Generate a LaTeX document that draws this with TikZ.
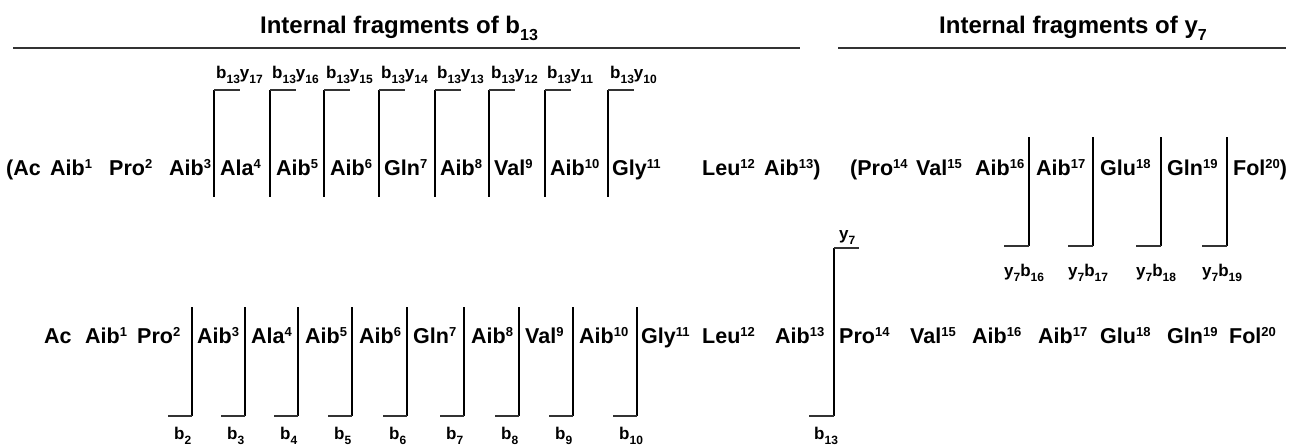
\documentclass[tikz,border=0pt]{standalone}
\usepackage{fontspec}
\setmainfont{Liberation Sans}
% residue superscripts and fragment subscripts
\newcommand\sps[1]{\raisebox{0.32em}{\fontsize{13}{13}\selectfont #1}}
\newcommand\sbs[2][12]{\raisebox{-0.3em}{\fontsize{#1}{#1}\selectfont #2}}
\tikzset{
  res/.style={anchor=base west, inner sep=0pt, font=\fontsize{21.5}{24}\selectfont\bfseries},
  lab/.style={anchor=base west, inner sep=0pt, font=\fontsize{17}{20}\selectfont\bfseries},
  ttl/.style={anchor=base, inner sep=0pt, font=\fontsize{24}{28}\selectfont\bfseries},
  bar/.style={line width=2.3pt},
  tick/.style={line width=1.3pt, black!80},
  rule/.style={line width=1.4pt, black!80}
}
\begin{document}
\begin{tikzpicture}[x=1pt,y=-1pt]
\useasboundingbox (0,0) rectangle (1289,445);

% headings and rules
\node[ttl] (t1) at (399,33) {Internal fragments of b\sbs[16]{13}};
\node[ttl] (t2) at (1073,33) {Internal fragments of y\sbs[16]{7}};
\coordinate (r1a) at (13,48);  \coordinate (r1b) at (800,48);
\coordinate (r2a) at (838,48); \coordinate (r2b) at (1286,48);
\draw[rule] (r1a) -- (r1b);
\draw[rule] (r2a) -- (r2b);

% upper sequence
\node[res] (u0)  at (6,175)    {(Ac};
\node[res] (u1)  at (50,175)   {Aib\sps{1}};
\node[res] (u2)  at (109,175)  {Pro\sps{2}};
\node[res] (u3)  at (169,175)  {Aib\sps{3}};
\node[res] (u4)  at (220,175)  {Ala\sps{4}};
\node[res] (u5)  at (276,175)  {Aib\sps{5}};
\node[res] (u6)  at (330,175)  {Aib\sps{6}};
\node[res] (u7)  at (384,175)  {Gln\sps{7}};
\node[res] (u8)  at (440,175)  {Aib\sps{8}};
\node[res] (u9)  at (494,175)  {Val\sps{9}};
\node[res] (u10) at (550,175)  {Aib\sps{10}};
\node[res] (u11) at (612,175)  {Gly\sps{11}};
\node[res] (u12) at (702,175)  {Leu\sps{12}};
\node[res] (u13) at (764,175)  {Aib\sps{13})};
\node[res] (u14) at (850,175)  {(Pro\sps{14}};
\node[res] (u15) at (916,175)  {Val\sps{15}};
\node[res] (u16) at (975,175)  {Aib\sps{16}};
\node[res] (u17) at (1036,175) {Aib\sps{17}};
\node[res] (u18) at (1100,175) {Glu\sps{18}};
\node[res] (u19) at (1167,175) {Gln\sps{19}};
\node[res] (u20) at (1233,175) {Fol\sps{20})};

% internal b13 fragments: bracket opening to the right at the top
\foreach \x/\n [count=\i] in {214/17,270/16,324/15,379/14,435/13,489/12,545/11,608/10}{
  \coordinate (bt\i) at (\x,90);
  \draw[bar] (bt\i) -- ++(0,107);
  \draw[tick] (bt\i) -- ++(26,0);
  \node[lab] (bl\i) at ({\x+2},78) {b\sbs{13}y\sbs{\n}};
}

% internal y7 fragments: bracket opening to the left at the bottom
\foreach \x/\n [count=\i] in {1029/16,1093/17,1161/18,1227/19}{
  \coordinate (yb\i) at (\x,246);
  \draw[bar] (yb\i) -- ++(0,-109);
  \draw[tick] (yb\i) -- ++(-25,0);
  \node[lab] (yl\i) at ({\x-25},276) {y\sbs{7}b\sbs{\n}};
}

% lower sequence
\node[res] (l0)  at (44,343)   {Ac};
\node[res] (l1)  at (85,343)   {Aib\sps{1}};
\node[res] (l2)  at (137,343)  {Pro\sps{2}};
\node[res] (l3)  at (197,343)  {Aib\sps{3}};
\node[res] (l4)  at (251,343)  {Ala\sps{4}};
\node[res] (l5)  at (305,343)  {Aib\sps{5}};
\node[res] (l6)  at (359,343)  {Aib\sps{6}};
\node[res] (l7)  at (413,343)  {Gln\sps{7}};
\node[res] (l8)  at (471,343)  {Aib\sps{8}};
\node[res] (l9)  at (525,343)  {Val\sps{9}};
\node[res] (l10) at (579,343)  {Aib\sps{10}};
\node[res] (l11) at (641,343)  {Gly\sps{11}};
\node[res] (l12) at (702,343)  {Leu\sps{12}};
\node[res] (l13) at (775,343)  {Aib\sps{13}};
\node[res] (l14) at (839,343)  {Pro\sps{14}};
\node[res] (l15) at (910,343)  {Val\sps{15}};
\node[res] (l16) at (972,343)  {Aib\sps{16}};
\node[res] (l17) at (1038,343) {Aib\sps{17}};
\node[res] (l18) at (1100,343) {Glu\sps{18}};
\node[res] (l19) at (1167,343) {Gln\sps{19}};
\node[res] (l20) at (1229,343) {Fol\sps{20}};

% b ions
\foreach \x/\n [count=\i] in {192/2,245/3,298/4,352/5,407/6,464/7,519/8,573/9,637/10}{
  \coordinate (bb\i) at (\x,416);
  \draw[bar] (bb\i) -- ++(0,-109);
  \draw[tick] (bb\i) -- ++(-24,0);
  \node[lab] (bbl\i) at ({\x-18},439) {b\sbs{\n}};
}

% y7 / b13 split
\coordinate (ytop) at (834,248);
\coordinate (ybot) at (834,416);
\draw[bar] (ytop) -- (ybot);
\draw[tick] (ytop) -- ++(25,0);
\draw[tick] (ybot) -- ++(-25,0);
\node[lab] (ylab) at (839,239) {y\sbs{7}};
\node[lab] (blab) at (814,439) {b\sbs{13}};
\end{tikzpicture}
\end{document}
